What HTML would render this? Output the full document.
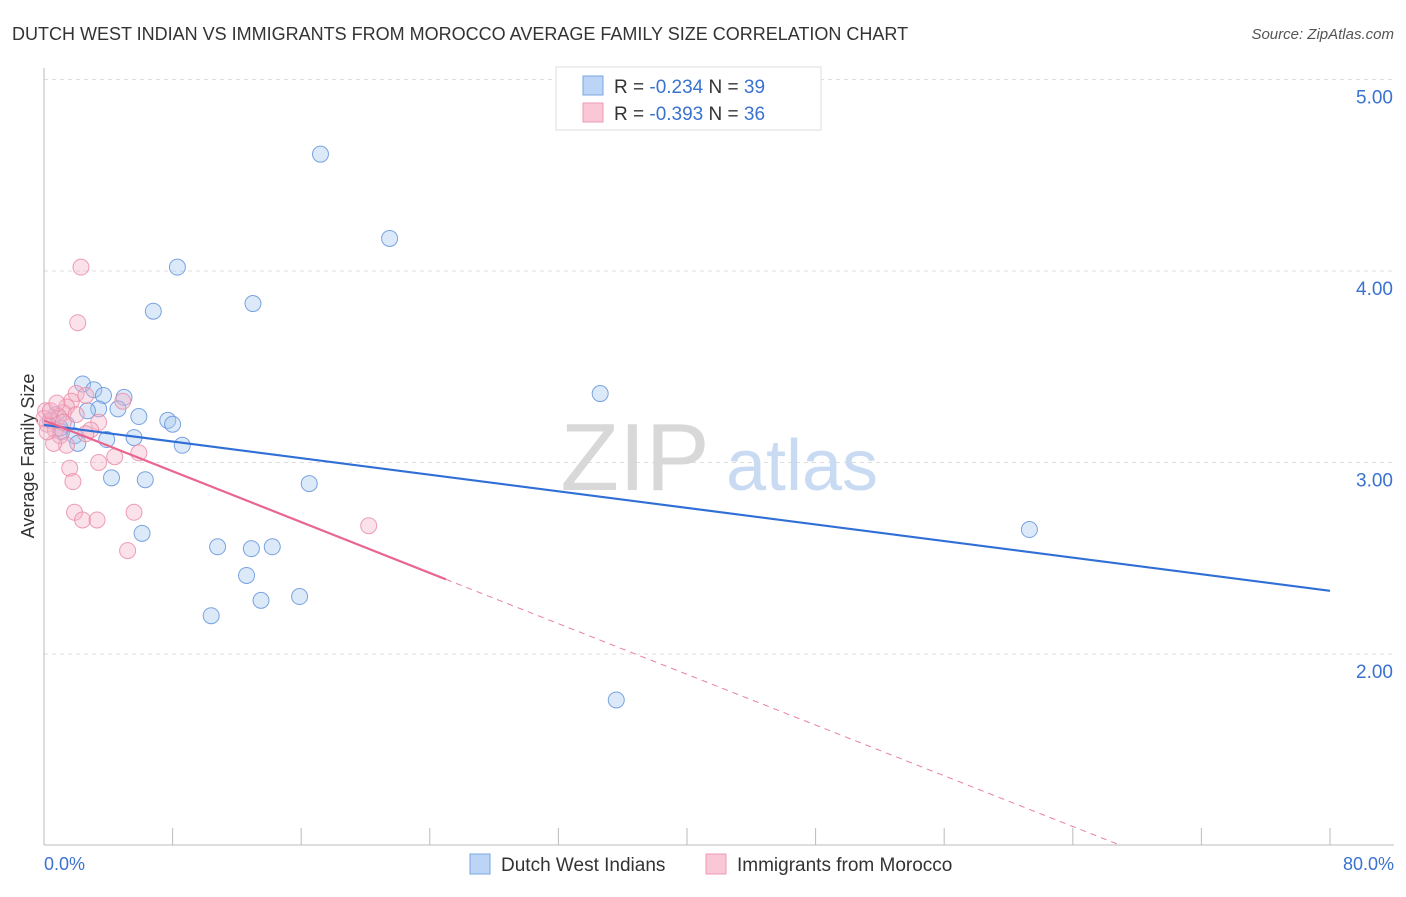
<!DOCTYPE html>
<html><head><meta charset="utf-8"><style>
body{margin:0;background:#fff;font-family:"Liberation Sans",sans-serif}
svg text{font-family:"Liberation Sans",sans-serif}
</style></head><body>
<svg id="chart" width="1406" height="892" viewBox="0 0 1406 892" xmlns="http://www.w3.org/2000/svg">
<text x="12" y="40" font-size="18" fill="#333">DUTCH WEST INDIAN VS IMMIGRANTS FROM MOROCCO AVERAGE FAMILY SIZE CORRELATION CHART</text>
<text x="1394" y="39" font-size="15" fill="#555" font-style="italic" text-anchor="end">Source: ZipAtlas.com</text>
<g id="grid"></g>
<g>
<text x="635" y="490" font-size="96" font-family="Liberation Serif,serif" fill="#d8d8d8" text-anchor="middle">ZIP</text>
<text x="802" y="490" font-size="72" fill="#c9dbf2" text-anchor="middle">atlas</text>
</g>
<line x1="44" y1="68" x2="44" y2="845" stroke="#bbb"/>
<line x1="44" y1="845" x2="1394" y2="845" stroke="#bbb"/>
<g id="xticks"></g>
<g id="yticks"></g>
<text transform="translate(34,456) rotate(-90)" font-size="18" fill="#333" text-anchor="middle">Average Family Size</text>
<text x="44" y="870" font-size="18" fill="#3a72d0">0.0%</text>
<text x="1394" y="870" font-size="18" fill="#3a72d0" text-anchor="end">80.0%</text>
<g id="points"></g>
<g id="trends"></g>
<g>
<rect x="556" y="67" width="265" height="63" fill="#fff" stroke="#ddd"/>
<rect x="583" y="76" width="20" height="19" fill="#bcd4f5" stroke="#7aa5e3"/>
<rect x="583" y="103" width="20" height="19" fill="#f9c7d5" stroke="#ee9ab3"/>
<text x="614" y="93" font-size="19" fill="#333">R = <tspan fill="#3a72d0">-0.234</tspan>   N = <tspan fill="#3a72d0">39</tspan></text>
<text x="614" y="120" font-size="19" fill="#333">R = <tspan fill="#3a72d0">-0.393</tspan>   N = <tspan fill="#3a72d0">36</tspan></text>
</g>
<g>
<rect x="470" y="854" width="20" height="20" fill="#bcd4f5" stroke="#7aa5e3"/>
<text x="501" y="871" font-size="19" fill="#333">Dutch West Indians</text>
<rect x="706" y="854" width="20" height="20" fill="#f9c7d5" stroke="#ee9ab3"/>
<text x="737" y="871" font-size="19" fill="#333">Immigrants from Morocco</text>
</g>
</svg>
<script>
const blueX=[17.2,21.5,8.3,13.0,6.8,34.6,2.4,3.1,3.7,4.98,3.4,4.6,2.7,5.9,7.7,8.0,1.4,0.75,0.4,1.1,1.9,5.6,3.9,2.1,8.6,4.2,6.3,16.5,61.3,6.1,10.8,12.9,14.2,12.6,13.5,15.9,10.4,35.6,1.0];
const blueY=[4.61,4.17,4.02,3.83,3.79,3.36,3.41,3.38,3.35,3.34,3.28,3.28,3.27,3.24,3.22,3.20,3.20,3.25,3.22,3.16,3.14,3.13,3.12,3.10,3.09,2.92,2.91,2.89,2.65,2.63,2.56,2.55,2.56,2.41,2.28,2.30,2.20,1.76,3.18];
const pinkX=[2.3,2.1,2.0,2.6,1.7,1.4,1.2,0.9,0.5,0.2,0.7,1.0,1.4,0.6,4.9,3.4,2.9,2.6,5.9,4.4,3.4,1.6,1.8,1.9,2.4,3.3,5.6,20.2,5.2,0.1,0.0,0.4,0.8,1.2,2.0,0.2];
const pinkY=[4.02,3.73,3.36,3.35,3.32,3.29,3.26,3.24,3.22,3.20,3.17,3.14,3.09,3.10,3.32,3.21,3.17,3.15,3.05,3.03,3.00,2.97,2.90,2.74,2.70,2.70,2.74,2.67,2.54,3.27,3.23,3.27,3.31,3.21,3.25,3.16];
const blueTrendX=[0,80];
const blueTrendY=[3.196,2.33];
const pinkTrendX=[0,25,67];
const pinkTrendY=[3.22,2.39,1.0];
const yTicks=[2,3,4,5];
const yTickLabels=["2.00","3.00","4.00","5.00"];
const xTicks=[0,8,16,24,32,40,48,56,64,72,80];

const NS="http://www.w3.org/2000/svg";
const sx=v=>44+v*(1286/80);
const sy=v=>845.5-(v-1)*191.5;
function mk(tag,attrs,parent){const e=document.createElementNS(NS,tag);for(const k in attrs)e.setAttribute(k,attrs[k]);parent.appendChild(e);return e;}
const grid=document.getElementById('grid'),yt=document.getElementById('yticks'),xt=document.getElementById('xticks');
yTicks.forEach((t,i)=>{
  const l=mk('line',{x1:44,x2:1394,y1:sy(t),y2:sy(t),stroke:'#ddd','stroke-dasharray':'4,4'},grid);
  
  
  const tx=mk('text',{x:1393,y:sy(t)+24,'font-size':19,fill:'#3a72d0','text-anchor':'end'},yt);
  tx.textContent=yTickLabels[i];
  
  
});
xTicks.forEach(t=>{
  const l=mk('line',{x1:sx(t),x2:sx(t),y1:828,y2:845,stroke:'#bbb'},xt);
  
  
});
const pts=document.getElementById('points');
function series(xs,ys,fill,stroke,name){
  xs.forEach((x,i)=>{
    const c=mk('circle',{cx:sx(x),cy:sy(ys[i]),r:8,fill:fill,'fill-opacity':0.4,stroke:stroke,'stroke-opacity':0.8,'stroke-width':1},pts);
    
    
  });
}
series(blueX,blueY,'#a8c8f0','#5b8fd9','dutch-west-indian-point');
series(pinkX,pinkY,'#f6b3c7','#e888a5','morocco-immigrant-point');
const tr=document.getElementById('trends');
const bl=mk('line',{x1:sx(blueTrendX[0]),y1:sy(blueTrendY[0]),x2:sx(blueTrendX[1]),y2:sy(blueTrendY[1]),stroke:'#2f6fd6','stroke-width':2.2},tr);


const pl=mk('line',{x1:sx(pinkTrendX[0]),y1:sy(pinkTrendY[0]),x2:sx(pinkTrendX[1]),y2:sy(pinkTrendY[1]),stroke:'#e8668f','stroke-width':2.2},tr);


const pd=mk('line',{x1:sx(pinkTrendX[1]),y1:sy(pinkTrendY[1]),x2:sx(pinkTrendX[2]),y2:sy(pinkTrendY[2]),stroke:'#e8809f','stroke-width':1,'stroke-dasharray':'6,5'},tr);


</script>
</body></html>
